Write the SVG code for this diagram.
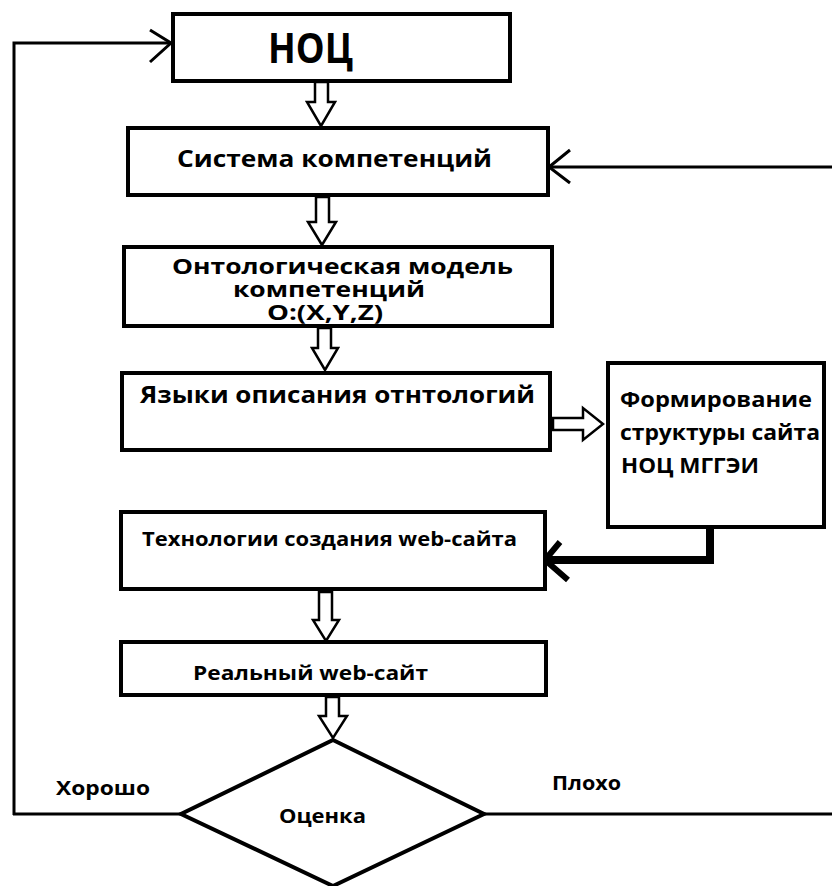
<svg xmlns="http://www.w3.org/2000/svg" width="832" height="886" viewBox="0 0 832 886">
<style>
.box{fill:#fff;stroke:#000;stroke-width:4}
.ln{fill:none;stroke:#000;stroke-width:3}
.hol{fill:#fff;stroke:#000;stroke-width:2.5;stroke-linejoin:miter}
.t{font-family:"Open Sans","Liberation Sans",sans-serif;font-weight:bold;fill:#000}
</style>
<rect width="832" height="886" fill="#fff"/>
<g id="connectors">
  <polyline class="ln" points="14,815 14,43 170,43"/>
  <polyline class="ln" points="150,30 171,43 150,62"/>
  <polyline class="ln" points="832,167 550,167"/>
  <polyline class="ln" points="570,150 549,167 570,183"/>
  <polyline class="ln" points="182,814 13,814"/>
  <polyline class="ln" points="484,814 832,814"/>
  <polyline fill="none" stroke="#000" stroke-width="8" points="710,527 710,560 548,560"/>
  <polyline fill="none" stroke="#000" stroke-width="6" points="560,542 545,560 568,580"/>
  <polygon class="hol" points="315,82 328,82 328,102 335,102 321,126 307,102 315,102"/>
  <polygon class="hol" points="316,197 329,197 329,222 336,222 322,245 308,222 316,222"/>
  <polygon class="hol" points="318,328 331,328 331,348 338,348 325,370 312,348 318,348"/>
  <polygon class="hol" points="319,592 332,592 332,620 339,620 326,641 313,620 319,620"/>
  <polygon class="hol" points="326,697 339,697 339,716 347,716 333,738 319,716 326,716"/>
  <polygon class="hol" points="553,418 583,418 583,408 603,424 583,440 583,430 553,430"/>
</g>
<g id="node-noc">
  <rect class="box" x="173" y="14" width="337" height="67"/>
  <text class="t" x="268" y="63" font-size="42" textLength="85" lengthAdjust="spacingAndGlyphs">НОЦ</text>
</g>
<g id="node-sistema">
  <rect class="box" x="128" y="128" width="420" height="67"/>
  <text class="t" x="177" y="167" font-size="23" textLength="315" lengthAdjust="spacingAndGlyphs">Система компетенций</text>
</g>
<g id="node-ontology">
  <rect class="box" x="124" y="247" width="428" height="79"/>
  <text class="t" x="172" y="274" font-size="22" textLength="341" lengthAdjust="spacingAndGlyphs">Онтологическая модель</text>
  <text class="t" x="233" y="297" font-size="22" textLength="192" lengthAdjust="spacingAndGlyphs">компетенций</text>
  <text class="t" x="267" y="320" font-size="22" textLength="116" lengthAdjust="spacingAndGlyphs">O:(X,Y,Z)</text>
</g>
<g id="node-yazyki">
  <rect class="box" x="122" y="373" width="428" height="77"/>
  <text class="t" x="140" y="403" font-size="23" textLength="395" lengthAdjust="spacingAndGlyphs">Языки описания отнтологий</text>
</g>
<g id="node-formirovanie">
  <rect class="box" x="608" y="363" width="216" height="164"/>
  <text class="t" x="620" y="407" font-size="22" textLength="192" lengthAdjust="spacingAndGlyphs">Формирование</text>
  <text class="t" x="620" y="440" font-size="22" textLength="200" lengthAdjust="spacingAndGlyphs">структуры сайта</text>
  <text class="t" x="621" y="473" font-size="22" textLength="138" lengthAdjust="spacingAndGlyphs">НОЦ МГГЭИ</text>
</g>
<g id="node-tehnologii">
  <rect class="box" x="121" y="512" width="424" height="77"/>
  <text class="t" x="142" y="546" font-size="20" textLength="375" lengthAdjust="spacingAndGlyphs">Технологии создания web-сайта</text>
</g>
<g id="node-realny">
  <rect class="box" x="121" y="642" width="425" height="53"/>
  <text class="t" x="193" y="680" font-size="20" textLength="235" lengthAdjust="spacingAndGlyphs">Реальный  web-сайт</text>
</g>
<g id="node-ocenka">
  <polygon class="box" points="333,740 484,814 333,886 181,814"/>
  <text class="t" x="279" y="823" font-size="20" textLength="87" lengthAdjust="spacingAndGlyphs">Оценка</text>
</g>
<g id="labels">
  <text class="t" x="56" y="795" font-size="20" textLength="94" lengthAdjust="spacingAndGlyphs">Хорошо</text>
  <text class="t" x="552" y="790" font-size="20" textLength="69" lengthAdjust="spacingAndGlyphs">Плохо</text>
</g>
</svg>
